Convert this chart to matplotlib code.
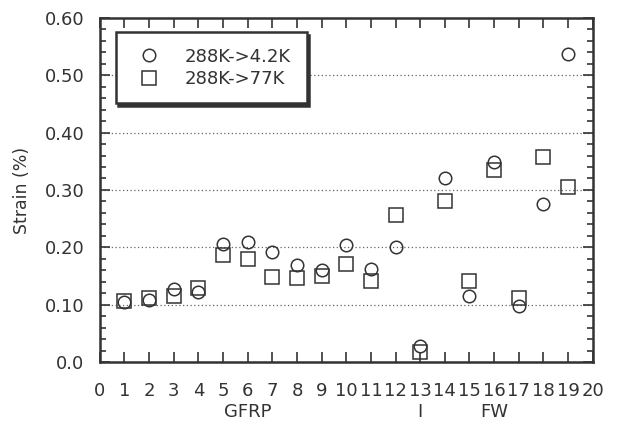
"""Strain of specimens cooled from 288K: scatter by specimen number."""
import matplotlib.pyplot as plt
from matplotlib.ticker import MultipleLocator

specimens = list(range(1, 20))
strain_4k = [0.105, 0.108, 0.128, 0.122, 0.206, 0.210, 0.192, 0.169, 0.160, 0.204,
             0.162, 0.200, 0.028, 0.320, 0.116, 0.349, 0.097, 0.275, 0.537]
strain_77k = [0.106, 0.112, 0.116, 0.130, 0.187, 0.180, 0.149, 0.147, 0.150, 0.171,
              0.141, 0.256, 0.017, 0.281, 0.141, 0.334, 0.111, 0.358, 0.306]
xticks = list(range(0, 21))
groups = {"GFRP": 6, "I": 13, "FW": 16}

INK = "#333333"
plt.rcParams["font.family"] = ["DejaVu Sans"]
plt.rcParams["text.color"] = INK

fig = plt.figure(figsize=(6.2, 4.24), dpi=100)
ax = fig.add_axes([0.161, 0.146, 0.795, 0.812])

ax.plot(specimens, strain_4k, "o", ms=9, mfc="none", mec=INK, mew=1.1,
        ls="none", label="288K->4.2K", zorder=3)
ax.plot(specimens, strain_77k, "s", ms=10, mfc="none", mec=INK, mew=1.1,
        ls="none", label="288K->77K", zorder=3)

ax.set_xlim(0, 20); ax.set_ylim(0, 0.6)
ax.set_xticks(xticks)
ax.set_yticks([0.0, 0.1, 0.2, 0.3, 0.4, 0.5, 0.6])
ax.set_yticklabels(["0.0", "0.10", "0.20", "0.30", "0.40", "0.50", "0.60"])
ax.yaxis.set_minor_locator(MultipleLocator(0.02))
ax.tick_params(axis="both", which="both", direction="in", top=True, right=True,
               color=INK, labelcolor=INK, labelsize=13, width=1.2)
ax.tick_params(axis="x", which="major", length=7, pad=14)
ax.tick_params(axis="y", which="major", length=7, pad=11)
ax.tick_params(axis="y", which="minor", length=4)
for s in ax.spines.values():
    s.set_linewidth(1.8); s.set_color(INK)

# 点线网格 (0.1 ~ 0.5)
for v in [0.1, 0.2, 0.3, 0.4, 0.5]:
    ax.axhline(v, color="#666666", lw=0.9, ls=(0, (1, 2)), zorder=1)

ax.set_ylabel("Strain (%)", fontsize=12.5, color=INK, labelpad=10)
for name, xpos in groups.items():
    ax.text(xpos, -0.087, name, ha="center", va="center", fontsize=13,
            color=INK, transform=ax.transData)

leg = ax.legend(loc="upper left", bbox_to_anchor=(0.032, 0.958), fontsize=13,
                frameon=True, fancybox=False, framealpha=1, edgecolor=INK,
                shadow={"color": "#333333", "alpha": 1}, handletextpad=1.0,
                borderpad=0.85, handlelength=2.0, labelspacing=0.25,
                borderaxespad=0)
leg.get_frame().set_linewidth(1.8)
for t in leg.get_texts():
    t.set_color(INK)

fig.savefig("out.png", dpi=100)
